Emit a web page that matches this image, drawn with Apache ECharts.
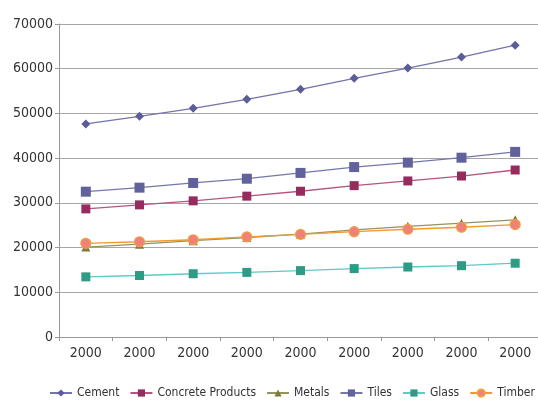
<!DOCTYPE html>
<html>
<head>
<meta charset="utf-8">
<script src="https://cdn.jsdelivr.net/npm/echarts@6/dist/echarts.min.js"></script>
<style>
  html, body { margin: 0; padding: 0; background: #fff; }
  #chart { width: 538px; height: 401px; }
</style>
</head>
<body>
<div id="chart"></div>
<script>
// Building material output by year
const years = ['2000', '2000', '2000', '2000', '2000', '2000', '2000', '2000', '2000'];
const cement = [47650, 49350, 51150, 53150, 55400, 57850, 60150, 62600, 65250];
const concreteProducts = [28650, 29550, 30450, 31500, 32600, 33850, 34900, 36000, 37350];
const metals = [20100, 20750, 21550, 22250, 23000, 23950, 24750, 25450, 26200];
const tiles = [32500, 33400, 34450, 35400, 36700, 38000, 39000, 40100, 41400];
const glass = [13450, 13750, 14150, 14450, 14850, 15300, 15650, 15950, 16500];
const timber = [20950, 21300, 21750, 22400, 22950, 23550, 24100, 24550, 25150];
const yTicks = { min: 0, max: 70000, interval: 10000 };

const FONT = '"DejaVu Sans Condensed", "Liberation Sans Narrow", Roboto, sans-serif';

function line(name, data, lineColor, markColor, symbol, size, borderColor) {
  return {
    name, type: 'line', data,
    symbol, symbolSize: size,
    lineStyle: { color: lineColor, width: 1.3 },
    itemStyle: { color: markColor, borderColor: borderColor || markColor, borderWidth: borderColor ? 1.2 : 0 },
    emphasis: { disabled: true },
    animation: false
  };
}

const chart = echarts.init(document.getElementById('chart'), null, { renderer: 'canvas' });
chart.setOption({
  backgroundColor: '#fff',
  textStyle: { fontFamily: FONT },
  grid: { left: 59, width: 483, top: 24, bottom: 64, outerBoundsMode: 'none', containLabel: false },
  legend: {
    bottom: -3, left: 44, width: 520,
    itemWidth: 22, itemHeight: 9, itemGap: 10,
    textStyle: { fontFamily: FONT, fontSize: 12, color: '#333' },
    data: ['Cement', 'Concrete Products', 'Metals', 'Tiles', 'Glass', 'Timber']
  },
  xAxis: {
    type: 'category', data: years, boundaryGap: true,
    axisLine: { lineStyle: { color: '#999', width: 1 } },
    axisTick: { show: true, length: 4, lineStyle: { color: '#999' } },
    axisLabel: { fontFamily: FONT, fontSize: 14, color: '#333', margin: 9 }
  },
  yAxis: {
    type: 'value', min: yTicks.min, max: yTicks.max, interval: yTicks.interval,
    axisLine: { show: true, lineStyle: { color: '#999' } },
    axisTick: { show: true, length: 4, lineStyle: { color: '#999' } },
    splitLine: { lineStyle: { color: '#a6a6a6', width: 1 } },
    axisLabel: { fontFamily: FONT, fontSize: 14, color: '#333', margin: 6, formatter: v => String(v) }
  },
  series: [
    line('Cement', cement, '#7373ad', '#5c5c98', 'diamond', 9),
    line('Concrete Products', concreteProducts, '#b3557f', '#962c5d', 'rect', 9),
    line('Metals', metals, '#949460', '#7d7a3a', 'triangle', 9),
    line('Tiles', tiles, '#7676ad', '#61619b', 'rect', 10),
    line('Glass', glass, '#5ccac8', '#2e9b84', 'rect', 9),
    line('Timber', timber, '#f29a2e', '#f0807a', 'circle', 10, '#f0a040')
  ]
});
</script>
</body>
</html>
